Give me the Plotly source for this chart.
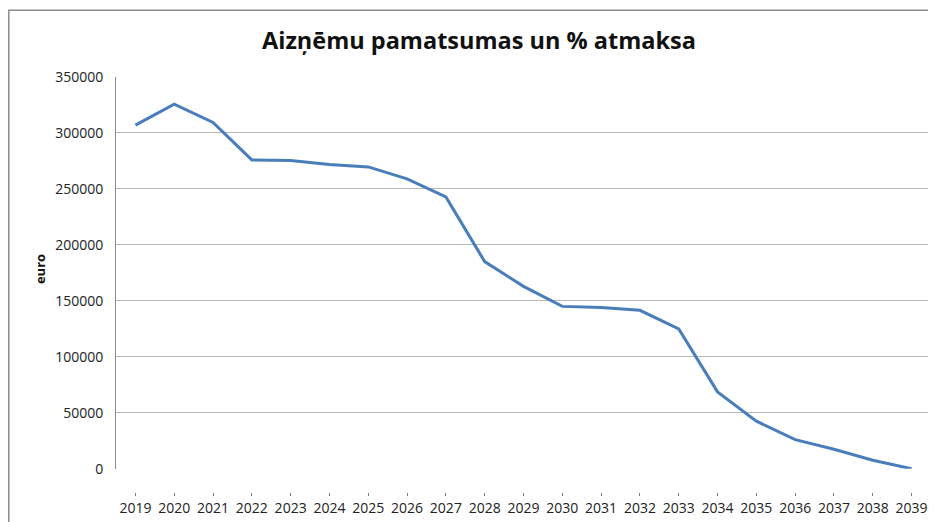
import plotly.graph_objects as go

years = [str(y) for y in range(2019, 2040)]
values = [307000, 325700, 309400, 275900, 275300, 271800, 269700, 259000, 242800,
          185100, 163000, 145100, 144200, 141600, 125000, 68700, 42600, 26100,
          17500, 7700, 0]
y_ticks = [0, 50000, 100000, 150000, 200000, 250000, 300000, 350000]

# the page body adds an 8px offset; work in page coordinates and subtract it
OFF = 8
W, H = 936 - OFF, 522 - OFF
left_px, right_px, top_px, bottom_px = 116, 931, 77, 494   # page coords
L = left_px - OFF
R = W - (right_px - OFF)
T = top_px - OFF
B = H - (bottom_px - OFF)
pw, ph = W - L - R, H - T - B
zero_px = 470.7
ydom0 = (bottom_px - zero_px) / ph

def px(x):  # page x -> paper
    return (x - left_px) / pw

def py(y):  # page y -> paper
    return (bottom_px - y) / ph

font = "Open Sans"

fig = go.Figure()
fig.add_trace(go.Scatter(x=years, y=values, mode="lines",
                         line=dict(color="#4a7ebb", width=3), hoverinfo="x+y"))

fig.update_layout(
    width=W, height=H,
    margin=dict(l=L, r=R, t=T, b=B, pad=0),
    paper_bgcolor="white", plot_bgcolor="white",
    showlegend=False,
    font=dict(family=font, color="#222", size=14),
    xaxis=dict(type="category", range=[-0.5, 20.5], showgrid=False,
               showline=False, zeroline=False, ticks="outside", ticklen=3,
               tickcolor="#777", tickwidth=1, anchor="free", position=0,
               tickfont=dict(size=14, family=font)),
    yaxis=dict(domain=[ydom0, 1], range=[0, 350000], tickvals=y_ticks,
               ticktext=[str(v) for v in y_ticks],
               showgrid=True, gridcolor="#b8b8b8", gridwidth=1,
               showline=True, linecolor="#8a8a8a", linewidth=1,
               zeroline=False, ticks="", ticklabelstandoff=9,
               tickfont=dict(size=14, family=font)),
)

fig.add_annotation(text="<b>Aizņēmu pamatsumas un % atmaksa</b>",
                   x=px(479), y=py(40), xref="paper", yref="paper",
                   showarrow=False, font=dict(size=23.5, family=font, color="#111"),
                   xanchor="center", yanchor="middle")
fig.add_annotation(text="<b>euro</b>", textangle=-90,
                   x=px(40), y=py(270), xref="paper", yref="paper",
                   showarrow=False, font=dict(size=13, family=font, color="#111"),
                   xanchor="center", yanchor="middle")

fig.add_shape(type="rect", xref="paper", yref="paper",
              x0=px(OFF + 0.8), y0=py(560), x1=px(960), y1=py(10),
              line=dict(color="#8c8c8c", width=1.5), fillcolor="rgba(0,0,0,0)",
              layer="below")

fig.write_html("out.html")
